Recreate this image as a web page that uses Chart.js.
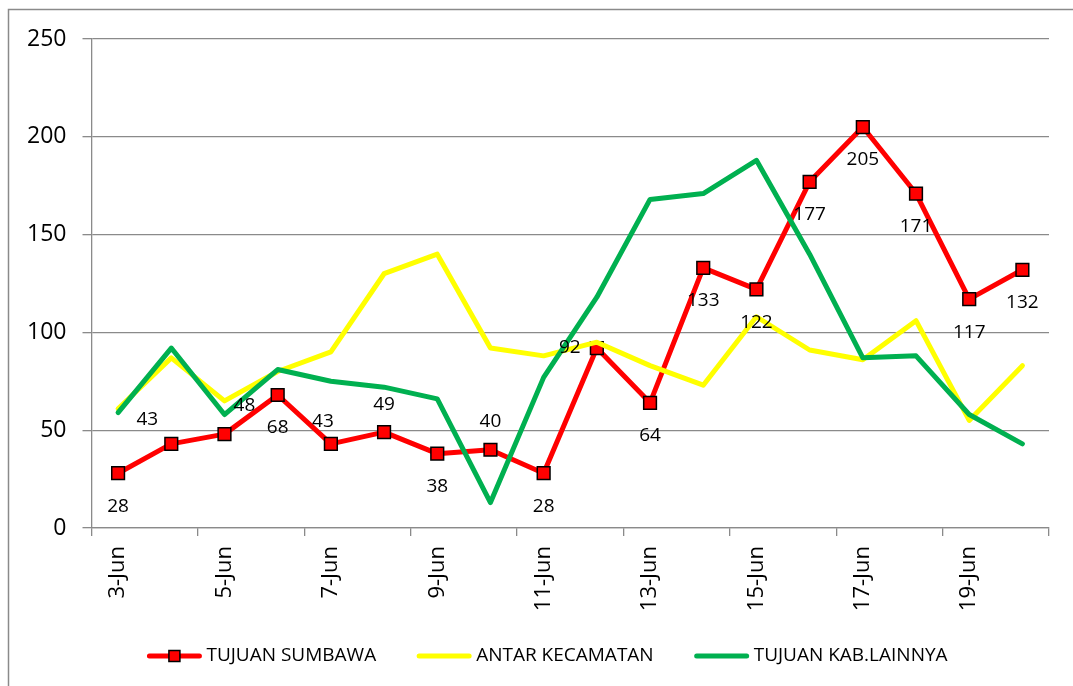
<!DOCTYPE html>
<html>
<head>
<meta charset="utf-8">
<script src="https://cdn.jsdelivr.net/npm/chart.js@4.4.1/dist/chart.umd.min.js"></script>
<style>
  html, body { margin: 0; padding: 0; background: #ffffff; }
  canvas { display: block; }
</style>
</head>
<body>
<canvas id="c" width="1073" height="686"></canvas>
<script>
// ---- data ----
const categories = ['3-Jun','4-Jun','5-Jun','6-Jun','7-Jun','8-Jun','9-Jun','10-Jun','11-Jun','12-Jun',
                    '13-Jun','14-Jun','15-Jun','16-Jun','17-Jun','18-Jun','19-Jun','20-Jun'];
const tujuanSumbawa = [28, 43, 48, 68, 43, 49, 38, 40, 28, 92, 64, 133, 122, 177, 205, 171, 117, 132];
const antarKecamatan = [61, 87, 65, 80, 90, 130, 140, 92, 88, 95, 83, 73, 108, 91, 86, 106, 55, 83];
const tujuanKabLainnya = [59, 92, 58, 81, 75, 72, 66, 13, 77, 118, 168, 171, 188, 140, 87, 88, 58, 43];
const seriesNames = ['TUJUAN SUMBAWA', 'ANTAR KECAMATAN', 'TUJUAN KAB.LAINNYA'];
const yTicks = [0, 50, 100, 150, 200, 250];

// label placement for the TUJUAN SUMBAWA value labels (as in the original)
const labelPlacement = ['below','aboveLeft','aboveRight','below','aboveLeftSmall','above','below','above','below','left',
                        'below','below','below','below','below','below','below','below'];

const FONT = "'Open Sans', 'DejaVu Sans', sans-serif";
const GREY = '#8a8a8a';
const RED = '#FF0000', YELLOW = '#FFFF00', GREEN = '#00B050';
const seriesColors = [RED, YELLOW, GREEN];

Chart.defaults.font.family = FONT;
Chart.defaults.color = '#000000';

const placementOffsets = {
  below: [0, 33], above: [0, -28], aboveLeft: [-24, -24], aboveRight: [20, -29],
  aboveLeftSmall: [-8, -22], left: [-27, 0]
};

const valueLabels = {
  id: 'valueLabels',
  afterDatasetsDraw(chart) {
    const meta = chart.getDatasetMeta(0);
    const ctx = chart.ctx;
    ctx.save();
    ctx.font = "19px " + FONT;
    ctx.fillStyle = '#000';
    ctx.textAlign = 'center';
    ctx.textBaseline = 'middle';
    meta.data.forEach((pt, i) => {
      const off = placementOffsets[labelPlacement[i]] || [0, 33];
      ctx.fillText(String(tujuanSumbawa[i]), pt.x + off[0], pt.y + off[1]);
    });
    ctx.restore();
  }
};

// legend drawn below the axis, centred like the original
const bottomLegend = {
  id: 'bottomLegend',
  afterDraw(chart) {
    const ctx = chart.ctx;
    ctx.save();
    ctx.font = "19px " + FONT;
    ctx.textBaseline = 'middle';
    ctx.textAlign = 'left';
    const lineLen = 54, gapText = 5, gapItem = 41, cy = 656;
    const widths = seriesNames.map(n => lineLen + gapText + ctx.measureText(n).width);
    const total = widths.reduce((a, b) => a + b, 0) + gapItem * (seriesNames.length - 1);
    let x = 547.5 - total / 2;
    seriesNames.forEach((name, i) => {
      ctx.strokeStyle = seriesColors[i];
      ctx.lineWidth = 5; ctx.lineCap = 'round';
      ctx.beginPath(); ctx.moveTo(x + 2, cy); ctx.lineTo(x + lineLen - 2, cy); ctx.stroke();
      if (i === 0) {
        ctx.fillStyle = RED; ctx.fillRect(x + lineLen / 2 - 5.5, cy - 5.5, 11, 11);
        ctx.strokeStyle = '#000'; ctx.lineWidth = 1.5; ctx.strokeRect(x + lineLen / 2 - 5.5, cy - 5.5, 11, 11);
      }
      ctx.fillStyle = '#000';
      ctx.fillText(name, x + lineLen + gapText, cy);
      x += widths[i] + gapItem;
    });
    ctx.restore();
  }
};

const frame = {
  id: 'frame',
  beforeDraw(chart) {
    const ctx = chart.ctx;
    ctx.save();
    ctx.fillStyle = '#ffffff';
    ctx.fillRect(0, 0, chart.width, chart.height);
    ctx.restore();
  },
  afterDraw(chart) {
    const ctx = chart.ctx;
    ctx.save();
    ctx.strokeStyle = GREY;
    ctx.lineWidth = 1.5;
    ctx.strokeRect(8.5, 9.5, 1200, 900);
    ctx.restore();
  }
};

new Chart(document.getElementById('c'), {
  type: 'line',
  data: {
    labels: categories,
    datasets: [
      { label: seriesNames[0], data: tujuanSumbawa, borderColor: RED, backgroundColor: RED,
        borderWidth: 5, pointStyle: 'rect', pointRadius: 9, pointHoverRadius: 9,
        pointBackgroundColor: RED, pointBorderColor: '#000', pointBorderWidth: 1.5,
        borderJoinStyle: 'round', borderCapStyle: 'round', tension: 0, order: 3 },
      { label: seriesNames[1], data: antarKecamatan, borderColor: YELLOW, backgroundColor: YELLOW,
        borderWidth: 5, pointRadius: 0, borderJoinStyle: 'round', borderCapStyle: 'round', tension: 0, order: 2 },
      { label: seriesNames[2], data: tujuanKabLainnya, borderColor: GREEN, backgroundColor: GREEN,
        borderWidth: 5, pointRadius: 0, borderJoinStyle: 'round', borderCapStyle: 'round', tension: 0, order: 1 }
    ]
  },
  options: {
    responsive: false,
    animation: false,
    layout: { padding: { top: 39, right: 24, left: 0, bottom: 58 } },
    scales: {
      x: {
        type: 'category',
        offset: true,
        grid: {
          offset: true, drawOnChartArea: false, drawTicks: true, tickLength: 8, lineWidth: 1.3,
          tickColor: (ctx) => (ctx.index === undefined || ctx.index % 2 === 0) ? GREY : 'rgba(0,0,0,0)',
          color: (ctx) => (ctx.index === undefined || ctx.index % 2 === 0) ? GREY : 'rgba(0,0,0,0)'
        },
        border: { display: true, color: GREY, width: 1.3 },
        ticks: {
          autoSkip: false, minRotation: 90, maxRotation: 90, padding: 10,
          font: { size: 22, family: FONT }, color: '#000',
          callback: function (value, index) { return index % 2 === 0 ? this.getLabelForValue(value) : ''; }
        },
        afterFit: (scale) => { scale.height = 100; }
      },
      y: {
        min: 0, max: 250,
        afterBuildTicks: (scale) => { scale.ticks = yTicks.map(v => ({ value: v })); },
        grid: { color: GREY, lineWidth: 1.3, tickLength: 9, drawTicks: true },
        border: { display: true, color: GREY, width: 1.3 },
        ticks: { padding: 16, font: { size: 23, family: FONT }, color: '#000' },
        afterFit: (scale) => { scale.width = 91.5; }
      }
    },
    plugins: {
      tooltip: { enabled: false },
      legend: { display: false }
    }
  },
  plugins: [frame, valueLabels, bottomLegend]
});
</script>
</body>
</html>
